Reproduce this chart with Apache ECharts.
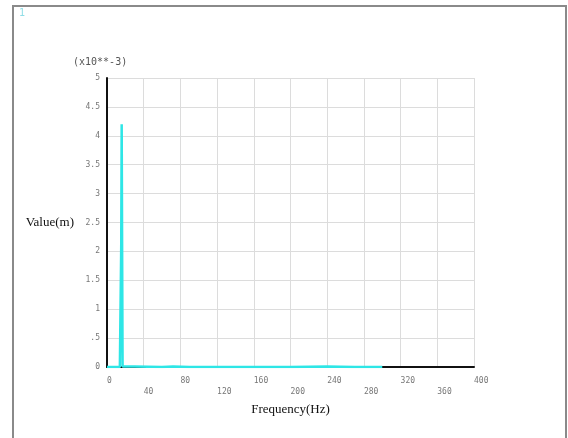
<!DOCTYPE html>
<html>
<head>
<meta charset="utf-8">
<title>Frequency response</title>
<script src="https://cdn.jsdelivr.net/npm/echarts@6/dist/echarts.min.js"></script>
<style>
    html, body { margin: 0; padding: 0; background: #fff; }
    #chart { width: 568px; height: 438px; }
</style>
</head>
<body>
<div id="chart"></div>
<script type="text/javascript">
    // 频率 (Hz) 与幅值 (x10**-3 m)
    var freqs  = [0, 14, 15, 15.5, 16, 16.5, 17, 30, 60, 72, 90, 120, 160, 200, 240, 270, 300];
    var values = [0, 0, 0.02, 2.1, 4.2, 2.0, 0.01, 0.01, 0, 0.01, 0, 0, 0, 0, 0.01, 0, 0];

    var xTicks = [0, 40, 80, 120, 160, 200, 240, 280, 320, 360, 400];
    var yTicks = [0, 0.5, 1, 1.5, 2, 2.5, 3, 3.5, 4, 4.5, 5];
    var yTickLabels = ['0', '.5', '1', '1.5', '2', '2.5', '3', '3.5', '4', '4.5', '5'];

    var seriesData = freqs.map(function (f, i) {
        return [f, values[i]];
    });

    var chart = echarts.init(document.getElementById('chart'));
    chart.setOption({
        animation: false,
        backgroundColor: '#fff',
        grid: {
            left: 107,
            right: 94,
            top: 78,
            bottom: 71
        },
        graphic: [
            {
                // 外框
                type: 'rect',
                shape: {x: 13, y: 6, width: 553, height: 450},
                style: {fill: 'none', stroke: '#8a8a8a', lineWidth: 2}
            },
            {
                type: 'text',
                left: 19,
                top: 8,
                style: {text: '1', fill: '#8fdde6', font: '10px "DejaVu Sans Mono"'}
            },
            {
                type: 'text',
                left: 73,
                top: 57,
                style: {text: '(x10**-3)', fill: '#555', font: '10px "DejaVu Sans Mono"'}
            }
        ],
        xAxis: {
            type: 'value',
            min: 0,
            max: 400,
            interval: 40,
            name: 'Frequency(Hz)',
            nameLocation: 'middle',
            nameGap: 36,
            nameTextStyle: {
                fontFamily: 'Liberation Serif',
                fontSize: 13,
                color: '#111'
            },
            axisLine: {lineStyle: {color: '#111', width: 2}},
            axisTick: {show: false},
            splitLine: {show: true, lineStyle: {color: '#dcdcdc', width: 1}},
            axisLabel: {
                margin: 8,
                align: 'left',
                color: '#777',
                fontFamily: 'DejaVu Sans Mono',
                fontSize: 8,
                showMaxLabel: true,
                formatter: function (v) {
                    var idx = xTicks.indexOf(v);
                    return (idx % 2 === 1 ? '\n' : '') + v;
                },
                lineHeight: 11
            }
        },
        yAxis: {
            type: 'value',
            min: 0,
            max: 5,
            interval: 0.5,
            name: 'Value(m)',
            nameLocation: 'middle',
            nameRotate: 0,
            nameGap: 33,
            nameTextStyle: {
                fontFamily: 'Liberation Serif',
                fontSize: 13,
                color: '#111',
                align: 'right'
            },
            axisLine: {show: true, lineStyle: {color: '#111', width: 2}},
            axisTick: {show: false},
            splitLine: {show: true, lineStyle: {color: '#dcdcdc', width: 1}},
            axisLabel: {
                margin: 7,
                color: '#777',
                fontFamily: 'DejaVu Sans Mono',
                fontSize: 8,
                formatter: function (v) {
                    var idx = yTicks.indexOf(v);
                    return idx >= 0 ? yTickLabels[idx] : '';
                }
            }
        },
        series: [
            {
                name: 'Value',
                type: 'line',
                data: seriesData,
                showSymbol: false,
                z: 5,
                lineStyle: {color: '#2ee6e6', width: 2.5},
                itemStyle: {color: '#2ee6e6'}
            }
        ]
    });
</script>
</body>
</html>
